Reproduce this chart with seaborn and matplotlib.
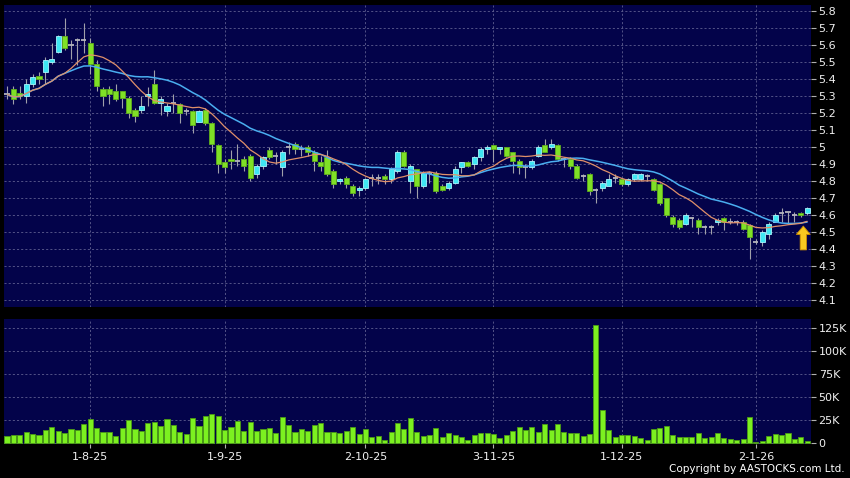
import numpy as np
import pandas as pd
import matplotlib
matplotlib.use('Agg')
import matplotlib.pyplot as plt
import seaborn as sns

# trading days (HK holidays removed)
holidays = ['2025-10-01', '2025-10-07', '2025-10-29', '2025-12-25', '2025-12-26', '2026-01-01']
dates = pd.bdate_range('2025-07-15', '2026-01-14')
dates = dates[~dates.isin(pd.to_datetime(holidays))]

open_ = [5.31, 5.34, 5.32, 5.30, 5.37, 5.42, 5.44, 5.50, 5.56, 5.65,
         5.60, 5.63, 5.63, 5.61, 5.49, 5.34, 5.34, 5.33, 5.33, 5.29,
         5.22, 5.22, 5.30, 5.37, 5.26, 5.21, 5.26, 5.25, 5.21, 5.21,
         5.15, 5.22, 5.14, 5.01, 4.91, 4.93, 4.92, 4.93, 4.95, 4.84,
         4.89, 4.98, 4.95, 4.88, 5.00, 5.02, 4.99, 5.00, 4.97, 4.91,
         4.94, 4.86, 4.80, 4.82, 4.77, 4.75, 4.76, 4.82, 4.82, 4.83,
         4.81, 4.86, 4.97, 4.80, 4.87, 4.77, 4.85, 4.85, 4.77, 4.76,
         4.79, 4.88, 4.91, 4.90, 4.94, 4.99, 5.01, 4.99, 5.00, 4.97,
         4.92, 4.88, 4.88, 4.95, 5.01, 5.00, 5.01, 4.93, 4.93, 4.89,
         4.83, 4.84, 4.75, 4.76, 4.77, 4.82, 4.81, 4.78, 4.81, 4.81,
         4.83, 4.81, 4.78, 4.70, 4.59, 4.57, 4.55, 4.58, 4.57, 4.53,
         4.53, 4.56, 4.58, 4.56, 4.56, 4.56, 4.54, 4.44, 4.44, 4.49,
         4.56, 4.61, 4.62, 4.60, 4.61, 4.61]
high = [5.36, 5.36, 5.36, 5.40, 5.43, 5.44, 5.53, 5.61, 5.66, 5.76,
        5.63, 5.64, 5.73, 5.64, 5.51, 5.35, 5.36, 5.37, 5.33, 5.30,
        5.23, 5.30, 5.35, 5.45, 5.30, 5.26, 5.31, 5.26, 5.23, 5.22,
        5.22, 5.23, 5.15, 5.02, 4.93, 4.98, 5.02, 4.95, 4.96, 4.90,
        4.95, 5.00, 4.97, 4.98, 5.03, 5.03, 5.01, 5.01, 4.98, 4.95,
        4.98, 4.87, 4.82, 4.83, 4.78, 4.77, 4.82, 4.84, 4.84, 4.84,
        4.88, 4.98, 4.98, 4.90, 4.87, 4.86, 4.86, 4.86, 4.78, 4.80,
        4.89, 4.91, 4.92, 4.95, 5.00, 5.01, 5.01, 5.00, 5.00, 4.97,
        4.93, 4.90, 4.93, 5.01, 5.05, 5.05, 5.02, 4.94, 4.94, 4.90,
        4.84, 4.85, 4.76, 4.80, 4.84, 4.84, 4.82, 4.82, 4.85, 4.85,
        4.84, 4.82, 4.79, 4.70, 4.60, 4.58, 4.61, 4.59, 4.58, 4.54,
        4.54, 4.58, 4.59, 4.58, 4.57, 4.57, 4.55, 4.46, 4.51, 4.56,
        4.61, 4.64, 4.62, 4.62, 4.62, 4.65]
low = [5.28, 5.25, 5.28, 5.26, 5.35, 5.37, 5.37, 5.49, 5.55, 5.57,
       5.52, 5.48, 5.55, 5.43, 5.33, 5.24, 5.25, 5.27, 5.23, 5.17,
       5.15, 5.20, 5.24, 5.25, 5.19, 5.18, 5.20, 5.14, 5.19, 5.08,
       5.15, 5.13, 4.97, 4.85, 4.85, 4.87, 4.89, 4.86, 4.80, 4.82,
       4.87, 4.93, 4.90, 4.83, 4.96, 4.96, 4.95, 4.95, 4.86, 4.86,
       4.83, 4.76, 4.78, 4.76, 4.71, 4.71, 4.75, 4.77, 4.78, 4.78,
       4.79, 4.85, 4.88, 4.73, 4.70, 4.76, 4.79, 4.73, 4.74, 4.75,
       4.78, 4.85, 4.88, 4.87, 4.92, 4.96, 4.91, 4.96, 4.94, 4.85,
       4.84, 4.82, 4.87, 4.94, 4.97, 4.99, 4.92, 4.88, 4.87, 4.81,
       4.80, 4.72, 4.67, 4.74, 4.77, 4.79, 4.77, 4.77, 4.80, 4.80,
       4.80, 4.74, 4.66, 4.59, 4.53, 4.52, 4.54, 4.53, 4.49, 4.49,
       4.49, 4.54, 4.51, 4.55, 4.54, 4.51, 4.34, 4.43, 4.42, 4.46,
       4.56, 4.56, 4.55, 4.56, 4.59, 4.60]
close = [5.31, 5.28, 5.30, 5.37, 5.41, 5.40, 5.51, 5.52, 5.65, 5.58,
         5.60, 5.63, 5.63, 5.49, 5.36, 5.30, 5.31, 5.28, 5.29, 5.20,
         5.18, 5.24, 5.31, 5.26, 5.28, 5.24, 5.26, 5.20, 5.21, 5.13,
         5.21, 5.14, 5.02, 4.90, 4.88, 4.92, 4.92, 4.89, 4.82, 4.89,
         4.94, 4.94, 4.95, 4.97, 5.00, 4.99, 4.99, 4.97, 4.92, 4.89,
         4.84, 4.78, 4.81, 4.78, 4.73, 4.76, 4.81, 4.82, 4.82, 4.81,
         4.87, 4.97, 4.89, 4.89, 4.77, 4.85, 4.85, 4.74, 4.75, 4.79,
         4.87, 4.91, 4.89, 4.94, 4.99, 5.00, 4.99, 5.00, 4.95, 4.92,
         4.88, 4.88, 4.92, 5.00, 4.97, 5.02, 4.93, 4.93, 4.89, 4.82,
         4.83, 4.74, 4.75, 4.79, 4.81, 4.82, 4.78, 4.81, 4.84, 4.84,
         4.83, 4.75, 4.67, 4.60, 4.55, 4.53, 4.60, 4.58, 4.53, 4.53,
         4.53, 4.57, 4.56, 4.56, 4.56, 4.52, 4.47, 4.44, 4.50, 4.55,
         4.60, 4.61, 4.62, 4.60, 4.60, 4.64]
# volume in thousands of shares
volume = [8.0, 9.0, 9.0, 12.3, 10.0, 8.7, 14.5, 17.8, 13.4, 11.6,
          15.6, 14.1, 21.4, 26.8, 17.0, 12.7, 12.7, 8.0, 16.3, 25.7,
          15.6, 13.4, 21.7, 22.8, 18.8, 26.4, 20.3, 12.7, 10.5, 27.2,
          18.8, 29.7, 32.2, 30.0, 14.9, 17.8, 24.6, 13.0, 23.6, 13.0,
          15.2, 17.0, 11.6, 28.3, 19.6, 12.3, 15.6, 13.4, 20.0, 21.7,
          12.7, 12.7, 10.9, 13.0, 17.8, 10.1, 15.6, 7.2, 7.6, 3.6,
          12.3, 22.5, 15.2, 27.2, 12.7, 8.3, 9.0, 16.7, 7.2, 10.9,
          8.7, 6.9, 3.6, 9.0, 11.2, 11.6, 10.1, 5.8, 8.7, 13.0,
          17.4, 14.9, 17.8, 12.7, 21.0, 14.9, 20.7, 12.3, 11.2, 11.2,
          8.0, 10.5, 128.6, 36.0, 14.5, 7.2, 9.0, 9.0, 8.3, 5.4,
          3.6, 15.9, 16.3, 18.8, 9.0, 6.9, 6.5, 6.5, 10.9, 5.4,
          6.9, 10.9, 6.2, 4.7, 3.6, 5.1, 28.3, 1.8, 2.9, 7.6,
          9.8, 9.0, 10.9, 5.1, 7.2, 2.2]

df = pd.DataFrame({'date': dates, 'open': open_, 'high': high, 'low': low,
                   'close': close, 'volume': volume})
df['i'] = np.arange(len(df))
df['ma10'] = df['close'].rolling(10, min_periods=1).mean()
df['ma20'] = df['close'].rolling(20, min_periods=1).mean()

# first trading day of each month -> date ticks
firsts = df[df['date'].dt.month != df['date'].shift(1).dt.month].iloc[1:]
tick_pos = firsts['i'].values
tick_lab = [f"{d.day}-{d.month}-{d.year % 100}" for d in firsts['date']]

sns.set_theme(style='darkgrid', rc={
    'axes.facecolor': '#03034a', 'figure.facecolor': 'black',
    'grid.color': '#5e5e90', 'grid.linestyle': (0, (2.5, 2.5)), 'grid.linewidth': 0.6,
    'axes.edgecolor': '#03034a', 'axes.linewidth': 0,
    'xtick.color': '#b0b0b0', 'ytick.color': '#b0b0b0',
    'xtick.labelcolor': '#f0f0f0', 'ytick.labelcolor': '#f0f0f0',
    'text.color': 'white'})
plt.rcParams['font.family'] = ['DejaVu Sans']

fig = plt.figure(figsize=(8.5, 4.78), dpi=100)
ax = fig.add_axes([0.0047, 0.3577, 0.9494, 0.6318])
axv = fig.add_axes([0.0047, 0.0711, 0.9494, 0.2615])

up = df[df['close'] > df['open']]
dn = df[df['close'] < df['open']]
flat = df[df['close'] == df['open']]

ax.vlines(df['i'], df['low'], df['high'], color='#a0a0aa', lw=0.8, zorder=2)
ax.bar(up['i'], up['close'] - up['open'], bottom=up['open'], width=0.8,
       color='#3fe6f2', edgecolor='#a8f6ff', lw=0.6, zorder=3)
ax.bar(dn['i'], dn['open'] - dn['close'], bottom=dn['close'], width=0.8,
       color='#7fe026', edgecolor='#5fae1c', lw=0.6, zorder=3)
ax.hlines(flat['close'], flat['i'] - 0.4, flat['i'] + 0.4, color='#b4b4bc', lw=1.3, zorder=3)

sns.lineplot(data=df, x='i', y='ma20', ax=ax, color='#4aaef0', lw=1.1, zorder=4)
sns.lineplot(data=df, x='i', y='ma10', ax=ax, color='#e0906a', lw=0.9, zorder=4)

ax.annotate('', xy=(124.4, 4.535), xytext=(124.4, 4.395),
            arrowprops=dict(facecolor='#f8c820', edgecolor='#d09000', lw=0.6,
                            width=4.5, headwidth=10, headlength=6), zorder=5)

ax.set_xlim(-0.47, 125.6)
ax.set_ylim(4.059, 5.835)
ax.set_yticks(np.round(np.arange(4.1, 5.81, 0.1), 1))
ax.set_yticklabels([f"{v:g}" for v in np.round(np.arange(4.1, 5.81, 0.1), 1)])
ax.set_xticks(tick_pos)
ax.set_xticklabels([])
ax.yaxis.tick_right()
ax.tick_params(axis='y', length=3.5, width=0.8, pad=2, labelsize=8, right=True)
ax.tick_params(axis='x', length=0)
ax.set_xlabel('')
ax.set_ylabel('')

sns.barplot(x=df['i'], y=df['volume'], ax=axv, color='#7cf020', edgecolor='#4c9c14',
            lw=0.6, width=0.8, saturation=1, zorder=3)
axv.set_xlim(-0.47, 125.6)
axv.set_ylim(-0.6, 135)
axv.set_yticks([0, 25, 50, 75, 100, 125])
axv.set_yticklabels(['0', '25K', '50K', '75K', '100K', '125K'])
axv.set_xticks(tick_pos)
axv.set_xticklabels(tick_lab)
axv.yaxis.tick_right()
axv.tick_params(axis='y', length=3.5, width=0.8, pad=2, labelsize=8, right=True)
axv.tick_params(axis='x', length=3, width=0.8, pad=3, labelsize=8, bottom=True)
axv.set_xlabel('')
axv.set_ylabel('')
for a in (ax, axv):
    a.grid(True, zorder=0)
    a.set_axisbelow(True)

fig.text(0.994, 0.008, 'Copyright by AASTOCKS.com Ltd.', ha='right', va='bottom',
         color='white', fontsize=7.5)

fig.savefig('out.png', dpi=100, facecolor='black')
